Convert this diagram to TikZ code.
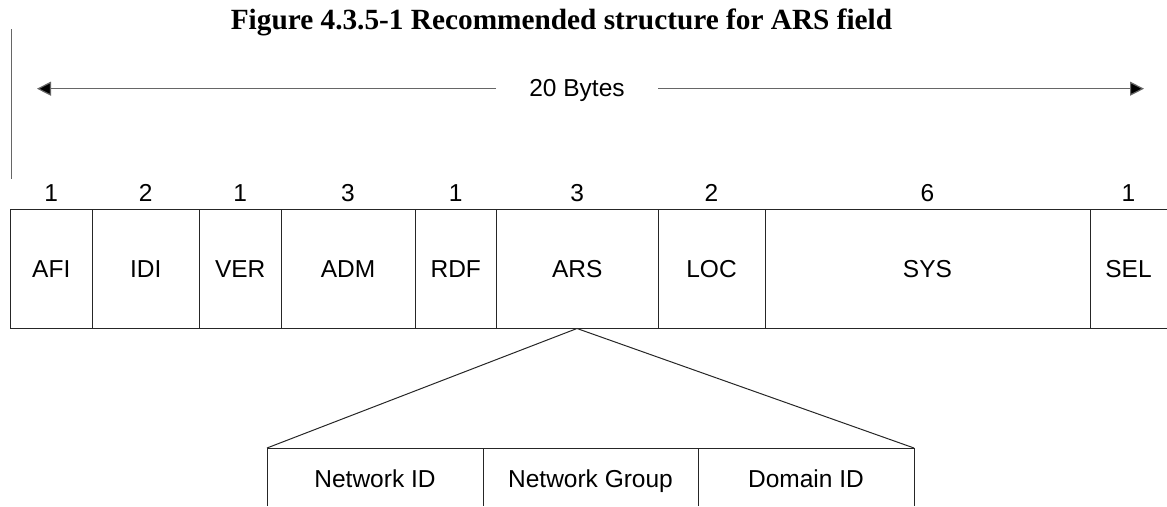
\documentclass[tikz,border=0pt]{standalone}
\usepackage{fontspec}
\setmainfont{Liberation Sans}
\newfontfamily\titlefont{Liberation Serif}
\usetikzlibrary{arrows.meta}
\begin{document}
\begin{tikzpicture}[x=1pt,y=-1pt,
  lbl/.style={font=\fontsize{24.5}{28}\selectfont, anchor=base, inner sep=0pt},
  ttl/.style={font=\titlefont\bfseries\fontsize{29.3}{32}\selectfont, anchor=base, inner sep=0pt},
  rule/.style={line width=1pt, draw=black!85},
  thin/.style={line width=1pt, draw=black!60},
  dimline/.style={line width=1.2pt, draw=black!60, -{Triangle[length=14pt,width=14pt,fill=black]}}]
\useasboundingbox (0,0) rectangle (1167,506);

% title
\node[ttl] (title) at (561.5,29.3) {Figure 4.3.5-1 Recommended structure for ARS field};

% left marker line
\coordinate (vt) at (11,29);
\coordinate (vb) at (11,179);
\draw[thin] (vt) -- (vb);

% 20 bytes dimension arrow
\node[lbl] (bytes) at (577,96.7) {20 Bytes};
\coordinate (gl) at (496,88.7);
\coordinate (gr) at (658,88.7);
\coordinate (aL) at (37,88.7);
\coordinate (aR) at (1144,88.7);
\draw[dimline] (gl) -- (aL);
\draw[dimline] (gr) -- (aR);

% field row
\coordinate (tl) at (10.5,209);
\coordinate (tr) at (1167,209);
\coordinate (bl) at (10.5,328.5);
\coordinate (br) at (1167,328.5);
\draw[rule] (tl) -- (tr);
\draw[rule] (bl) -- (br);
\foreach \x in {10.5,92,199.5,281,415,496.5,658,765,1090}
  \draw[rule] (\x,209) -- (\x,328.5);

\foreach \name/\a/\b/\n in {AFI/10.5/92/1, IDI/92/199.5/2, VER/199.5/281/1, ADM/281/415/3, RDF/415/496.5/1, ARS/496.5/658/3, LOC/658/765/2, SYS/765/1090/6, SEL/1090/1167/1}{
  \node[lbl] (f\name) at ({(\a+\b)/2},277) {\name};
  \node[lbl] (n\name) at ({(\a+\b)/2},201.7) {\n};
}

% ARS expansion
\coordinate (apex) at (577,328.5);
\coordinate (sl) at (267,448);
\coordinate (sr) at (914,448);
\draw[rule] (sl) -- (apex) -- (sr);
\draw[rule] (sl) -- (sr);
\foreach \x in {267,483,698,914}
  \draw[rule] (\x,448) -- (\x,506);
\node[lbl] (netid) at (375,487.3) {Network ID};
\node[lbl] (netgrp) at (590.5,487.3) {Network Group};
\node[lbl] (domid) at (806,487.3) {Domain ID};
\end{tikzpicture}
\end{document}
